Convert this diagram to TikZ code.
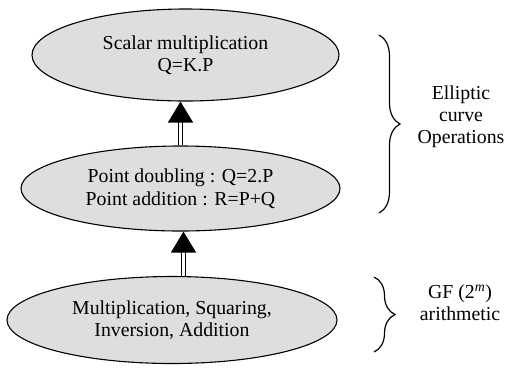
\documentclass[tikz,border=0pt]{standalone}
\usepackage{fontspec}
\setmainfont{Liberation Serif}
\usetikzlibrary{shapes.geometric,arrows.meta,decorations.pathreplacing}
\tikzset{
  layer/.style={ellipse, draw, line width=1.1pt, fill=black!13, inner sep=0pt, align=center,
    font=\fontsize{19.8}{22.5}\selectfont},
  lift/.style={double, double distance=2.4pt, line width=1.3pt, -{Triangle[width=25pt,length=21pt]}},
  group/.style={line width=1.2pt, decorate, decoration={brace, amplitude=21pt}},
  tag/.style={align=center, font=\fontsize{19.8}{22}\selectfont}
}
\begin{document}
\begin{tikzpicture}[x=1pt,y=-1pt]
          \useasboundingbox (0,0) rectangle (506,368);
          \node[layer, minimum width=307pt, minimum height=92pt] (scalar) at (185.5,55) {Scalar multiplication\\Q=K.P};
          \node[layer, minimum width=319pt, minimum height=85pt] (point) at (180.5,188.5) {Point doubling : Q=2.P\\Point addition : R=P+Q};
          \node[layer, minimum width=330pt, minimum height=87pt] (field) at (172,320) {Multiplication, Squaring,\\Inversion, Addition};
          \draw[lift] (point.north) -- (point.north |- scalar.south);
          \draw[lift] ([xshift=3pt]point.south |- field.north) -- ([xshift=3pt]point.south);
          \draw[group] (379,35) -- (379,213);
          \draw[group] (374,277) -- (374,352);
          \node[tag] (curve) at (461,117) {Elliptic\\curve\\Operations};
          \node[tag] (gf) at (460,303) {GF (2\textsuperscript{\textit{m}})\\arithmetic};
    \end{tikzpicture}
\end{document}
